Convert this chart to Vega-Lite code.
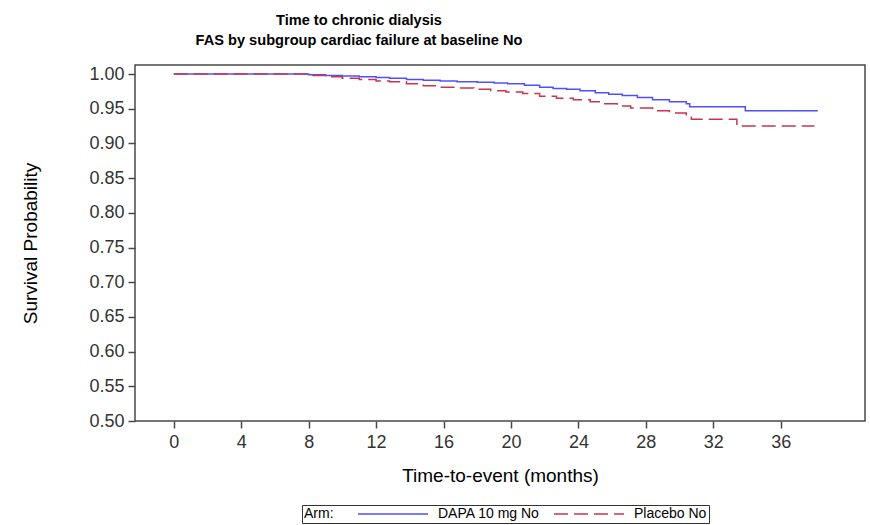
{
  "$schema": "https://vega.github.io/schema/vega-lite/v6.json",
  "autosize": "none",
  "padding": {"left": 135, "top": 65, "right": 5, "bottom": 104},
  "width": 730,
  "height": 356,
  "title": {
    "text": ["Time to chronic dialysis", "FAS by subgroup cardiac failure at baseline No"],
    "font": "Liberation Sans",
    "fontSize": 14.6,
    "fontWeight": "bold",
    "color": "#000000",
    "lineHeight": 20,
    "offset": 17,
    "anchor": "middle",
    "dx": -141
  },
  "config": {
    "font": "Liberation Sans",
    "view": {"stroke": "#4a4a4a", "strokeWidth": 1.5},
    "axis": {
      "labelFont": "Liberation Sans",
      "titleFont": "Liberation Sans",
      "labelColor": "#333333",
      "titleColor": "#000000",
      "tickColor": "#4a4a4a",
      "tickWidth": 1.5,
      "tickSize": 7,
      "domain": false,
      "grid": false,
      "titleFontWeight": "normal"
    },
    "legend": {
      "orient": "none",
      "legendX": 167,
      "legendY": 440,
      "direction": "horizontal",
      "titleOrient": "left",
      "titleFontWeight": "normal",
      "titleFontSize": 14,
      "titleFont": "Liberation Sans",
      "labelFont": "Liberation Sans",
      "labelFontSize": 14,
      "titleColor": "#000000",
      "labelColor": "#000000",
      "symbolType": "M0,0H14",
      "symbolSize": 100,
      "symbolStrokeWidth": 1.5,
      "symbolFillColor": "transparent",
      "strokeColor": "#333333",
      "fillColor": "#ffffff",
      "padding": 2,
      "columnPadding": 7,
      "labelOffset": 73,
      "titlePadding": 17
    }
  },
  "data": {
    "values": [
      {"arm": "DAPA 10 mg No", "month": 0, "surv": 1.0},
      {"arm": "DAPA 10 mg No", "month": 8.0, "surv": 0.999},
      {"arm": "DAPA 10 mg No", "month": 9, "surv": 0.998},
      {"arm": "DAPA 10 mg No", "month": 10, "surv": 0.997},
      {"arm": "DAPA 10 mg No", "month": 11, "surv": 0.996},
      {"arm": "DAPA 10 mg No", "month": 12, "surv": 0.995},
      {"arm": "DAPA 10 mg No", "month": 12.8, "surv": 0.994},
      {"arm": "DAPA 10 mg No", "month": 13.8, "surv": 0.992},
      {"arm": "DAPA 10 mg No", "month": 14.8, "surv": 0.991},
      {"arm": "DAPA 10 mg No", "month": 15.8, "surv": 0.990},
      {"arm": "DAPA 10 mg No", "month": 16.8, "surv": 0.989},
      {"arm": "DAPA 10 mg No", "month": 18, "surv": 0.988},
      {"arm": "DAPA 10 mg No", "month": 19, "surv": 0.987},
      {"arm": "DAPA 10 mg No", "month": 19.8, "surv": 0.986},
      {"arm": "DAPA 10 mg No", "month": 20.8, "surv": 0.984},
      {"arm": "DAPA 10 mg No", "month": 21.7, "surv": 0.981},
      {"arm": "DAPA 10 mg No", "month": 22.5, "surv": 0.979},
      {"arm": "DAPA 10 mg No", "month": 23.3, "surv": 0.978},
      {"arm": "DAPA 10 mg No", "month": 24.1, "surv": 0.976},
      {"arm": "DAPA 10 mg No", "month": 25, "surv": 0.973},
      {"arm": "DAPA 10 mg No", "month": 25.8, "surv": 0.971},
      {"arm": "DAPA 10 mg No", "month": 26.6, "surv": 0.969},
      {"arm": "DAPA 10 mg No", "month": 27.5, "surv": 0.966},
      {"arm": "DAPA 10 mg No", "month": 28.4, "surv": 0.963},
      {"arm": "DAPA 10 mg No", "month": 29.4, "surv": 0.960},
      {"arm": "DAPA 10 mg No", "month": 30.4, "surv": 0.957},
      {"arm": "DAPA 10 mg No", "month": 30.6, "surv": 0.953},
      {"arm": "DAPA 10 mg No", "month": 33.9, "surv": 0.947},
      {"arm": "DAPA 10 mg No", "month": 38.2, "surv": 0.947},
      {"arm": "Placebo No", "month": 0, "surv": 1.0},
      {"arm": "Placebo No", "month": 8.0, "surv": 0.998},
      {"arm": "Placebo No", "month": 9, "surv": 0.996},
      {"arm": "Placebo No", "month": 10, "surv": 0.994},
      {"arm": "Placebo No", "month": 11, "surv": 0.992},
      {"arm": "Placebo No", "month": 12, "surv": 0.990},
      {"arm": "Placebo No", "month": 12.8, "surv": 0.989},
      {"arm": "Placebo No", "month": 13.8, "surv": 0.986},
      {"arm": "Placebo No", "month": 14.8, "surv": 0.983},
      {"arm": "Placebo No", "month": 15.8, "surv": 0.981},
      {"arm": "Placebo No", "month": 16.8, "surv": 0.980},
      {"arm": "Placebo No", "month": 17.8, "surv": 0.978},
      {"arm": "Placebo No", "month": 18.8, "surv": 0.976},
      {"arm": "Placebo No", "month": 19.7, "surv": 0.974},
      {"arm": "Placebo No", "month": 20.7, "surv": 0.972},
      {"arm": "Placebo No", "month": 21.7, "surv": 0.968},
      {"arm": "Placebo No", "month": 22.7, "surv": 0.965},
      {"arm": "Placebo No", "month": 23.7, "surv": 0.963},
      {"arm": "Placebo No", "month": 24.7, "surv": 0.960},
      {"arm": "Placebo No", "month": 25.5, "surv": 0.957},
      {"arm": "Placebo No", "month": 26.3, "surv": 0.954},
      {"arm": "Placebo No", "month": 27.1, "surv": 0.951},
      {"arm": "Placebo No", "month": 28.4, "surv": 0.947},
      {"arm": "Placebo No", "month": 29.4, "surv": 0.944},
      {"arm": "Placebo No", "month": 30.4, "surv": 0.940},
      {"arm": "Placebo No", "month": 30.7, "surv": 0.935},
      {"arm": "Placebo No", "month": 33.4, "surv": 0.925},
      {"arm": "Placebo No", "month": 38.0, "surv": 0.925}
    ]
  },
  "mark": {"type": "line", "interpolate": "step-after", "strokeWidth": 1.5},
  "encoding": {
    "x": {
      "field": "month",
      "type": "quantitative",
      "scale": {"domain": [-2.3, 41.0], "nice": false, "zero": false},
      "axis": {
        "values": [0, 4, 8, 12, 16, 20, 24, 28, 32, 36],
        "title": "Time-to-event (months)",
        "titleFontSize": 19,
        "labelFontSize": 18,
        "labelPadding": 5,
        "titlePadding": 15
      }
    },
    "y": {
      "field": "surv",
      "type": "quantitative",
      "scale": {"domain": [0.5, 1.013], "nice": false, "zero": false},
      "axis": {
        "values": [0.5, 0.55, 0.6, 0.65, 0.7, 0.75, 0.8, 0.85, 0.9, 0.95, 1.0],
        "format": ".2f",
        "title": "Survival Probability",
        "titleFontSize": 19,
        "labelFontSize": 18,
        "labelPadding": 4,
        "titlePadding": 48
      }
    },
    "color": {
      "field": "arm",
      "type": "nominal",
      "title": "Arm:",
      "scale": {"domain": ["DAPA 10 mg No", "Placebo No"], "range": ["#4f4fff", "#c8364e"]}
    },
    "strokeDash": {
      "field": "arm",
      "type": "nominal",
      "title": "Arm:",
      "scale": {"domain": ["DAPA 10 mg No", "Placebo No"], "range": [[1, 0], [14, 6]]}
    }
  }
}
